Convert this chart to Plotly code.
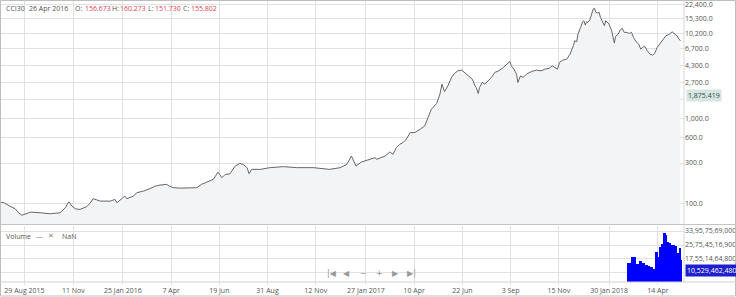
import numpy as np
import pandas as pd
import plotly.graph_objects as go

# ---------------- data ----------------
price_dates = [
    "2015-07-24", "2015-07-29", "2015-08-07", "2015-08-15", "2015-08-20", "2015-08-25",
    "2015-09-02", "2015-09-07", "2015-09-22", "2015-10-07", "2015-10-22", "2015-10-30",
    "2015-11-04", "2015-11-09", "2015-11-14", "2015-11-21", "2015-12-01", "2015-12-06",
    "2015-12-11", "2015-12-22", "2016-01-06", "2016-01-13", "2016-01-16", "2016-01-23",
    "2016-01-28", "2016-01-31", "2016-02-10", "2016-02-15", "2016-02-25", "2016-03-06",
    "2016-03-14", "2016-03-21", "2016-03-31", "2016-04-05", "2016-04-10", "2016-04-21",
    "2016-05-06", "2016-05-16", "2016-05-23", "2016-05-31", "2016-06-10", "2016-06-17",
    "2016-06-23", "2016-06-28", "2016-07-05", "2016-07-13", "2016-07-20", "2016-07-25",
    "2016-07-31", "2016-08-03", "2016-08-07", "2016-08-20", "2016-09-04", "2016-09-24",
    "2016-10-14", "2016-11-08", "2016-12-03", "2016-12-19", "2016-12-29", "2017-01-05",
    "2017-01-12", "2017-01-20", "2017-02-02", "2017-02-10", "2017-02-12", "2017-02-25",
    "2017-03-04", "2017-03-09", "2017-03-14", "2017-03-19", "2017-03-24", "2017-03-29",
    "2017-04-04", "2017-04-11", "2017-04-19", "2017-04-26", "2017-05-01", "2017-05-06",
    "2017-05-14", "2017-05-19", "2017-05-22", "2017-05-26", "2017-05-31", "2017-06-06",
    "2017-06-10", "2017-06-15", "2017-06-21", "2017-06-25", "2017-06-28", "2017-07-03",
    "2017-07-07", "2017-07-11", "2017-07-13", "2017-07-16", "2017-07-18", "2017-07-22",
    "2017-07-26", "2017-07-31", "2017-08-05", "2017-08-10", "2017-08-16", "2017-08-23",
    "2017-08-28", "2017-09-02", "2017-09-04", "2017-09-08", "2017-09-12", "2017-09-14",
    "2017-09-18", "2017-09-22", "2017-09-27", "2017-10-05", "2017-10-12", "2017-10-19",
    "2017-10-25", "2017-11-01", "2017-11-05", "2017-11-09", "2017-11-13", "2017-11-16",
    "2017-11-21", "2017-11-27", "2017-12-02", "2017-12-07", "2017-12-09", "2017-12-12",
    "2017-12-14", "2017-12-18", "2017-12-21", "2017-12-23", "2017-12-25", "2017-12-27",
    "2017-12-29", "2018-01-01", "2018-01-03", "2018-01-06", "2018-01-08", "2018-01-10",
    "2018-01-13", "2018-01-15", "2018-01-17", "2018-01-20", "2018-01-23", "2018-01-25",
    "2018-01-28", "2018-01-30", "2018-02-03", "2018-02-05", "2018-02-07", "2018-02-09",
    "2018-02-13", "2018-02-16", "2018-02-19", "2018-02-22", "2018-02-25", "2018-03-02",
    "2018-03-05", "2018-03-08", "2018-03-12", "2018-03-16", "2018-03-19", "2018-03-22",
    "2018-03-25", "2018-03-29", "2018-04-02", "2018-04-06", "2018-04-09", "2018-04-13",
    "2018-04-17", "2018-04-22", "2018-04-26", "2018-04-29", "2018-05-03", "2018-05-06",
    "2018-05-09", "2018-05-13", "2018-05-16", "2018-05-18",
]
price_values = [
    102.8, 101.9, 92.9, 86.5, 77.6, 72.7,
    76.1, 78.9, 77.6, 75.5, 77.6, 88.9,
    104.7, 92.9, 86.5, 84.9, 91.4, 100.0,
    113.7, 106.5, 106.5, 111.5, 101.9, 113.7,
    122.0, 113.7, 122.0, 133.9, 139.8, 149.3,
    160.2, 164.7, 167.9, 160.2, 153.4, 151.7,
    153.4, 153.4, 167.9, 178.7, 192.3, 234.6,
    201.4, 220.4, 223.4, 276.3, 297.4, 289.4,
    264.6, 224.6, 252.6, 252.6, 264.6, 271.9,
    264.6, 264.6, 252.6, 264.6, 289.4, 362.8,
    276.3, 308.2, 331.6, 347.4, 331.6, 362.8,
    404.6, 380.2, 456.2, 499.0, 522.7, 571.9,
    686.5, 686.5, 751.1, 821.9, 1033, 1295,
    1513, 1950, 2560, 2098, 2444, 3124,
    3426, 3679, 3750, 3522, 3362, 3124,
    2934, 2444, 2340, 1987, 2340, 2681,
    2560, 2801, 3073, 3522, 3679, 4035,
    4332, 4753, 4216, 3853, 3362, 2681,
    3210, 3073, 3362, 3620, 3750, 3679,
    3853, 3960, 4216, 4035, 3853, 4625,
    4925, 5060, 5798, 7270, 8332, 8108,
    10000, 12000, 13980, 14370, 12780, 13980,
    13750, 14760, 16470, 19760, 20140, 18060,
    17720, 18060, 15760, 13750, 12540, 14370,
    13750, 13130, 10940, 9548, 7827, 9393,
    10000, 11240, 11680, 10470, 10470, 10190,
    10470, 9141, 8108, 7617, 6645, 6960,
    7152, 6345, 5798, 5642, 5910, 6960,
    7617, 8727, 9548, 9731, 10270, 10650,
    10000, 9548, 8727, 8332,
]

volume_start = "2018-02-28"   # volume bars, one every 2 days
volume_values = [
    15.6e9, 15.6e9, 15.6e9, 18.9e9, 19.3e9, 19.3e9, 14.0e9, 15.0e9, 15.0e9, 16.4e9,
    16.4e9, 15.4e9, 15.4e9, 14.4e9, 14.4e9, 14.0e9, 14.0e9, 13.0e9, 13.0e9, 12.1e9,
    12.1e9, 21.9e9, 21.9e9, 18.9e9, 24.8e9, 24.8e9, 26.8e9, 33.3e9, 33.3e9, 31.7e9,
    27.8e9, 27.2e9, 27.2e9, 25.8e9, 25.8e9, 25.8e9, 25.2e9, 21.3e9, 21.3e9, 24.5e9,
    17.4e9,
]

price_ticks = [100, 300, 600, 1000, 1700, 2700, 4300, 6700, 10200, 15300, 22400]
price_tick_labels = ["100.0", "300.0", "600.0", "1,000.0", "", "2,700.0", "4,300.0",
                     "6,700.0", "10,200.0", "15,300.0", "22,400.0"]
volume_ticks = [9348412700, 17551464800, 25754516900, 33957569000]
volume_tick_labels = ["", "17,55,14,64,800", "25,75,45,16,900", "33,95,75,69,000"]

date_ticks = ["2015-08-29", "2015-11-11", "2016-01-25", "2016-04-07", "2016-06-19",
              "2016-08-31", "2016-11-12", "2017-01-27", "2017-04-10", "2017-06-22",
              "2017-09-03", "2017-11-15", "2018-01-30", "2018-04-14"]
date_tick_labels = ["29 Aug 2015", "11 Nov", "25 Jan 2016", "7 Apr", "19 Jun", "31 Aug",
                    "12 Nov", "27 Jan 2017", "10 Apr", "22 Jun", "3 Sep", "15 Nov",
                    "30 Jan 2018", "14 Apr"]

symbol = "CCI30"
header_date = "26 Apr 2016"
header_ohlc = [("O:", "156.673"), ("H:", "160.273"), ("L:", "151.730"), ("C:", "155.802")]
last_price_marker = 1875.419
last_volume = 10529462480

# ---------------- layout helpers ----------------
W, H = 736, 297
ML, MR, MT, MB = 1, 52, 0, 15
PW, PH = W - ML - MR, H - MT - MB


def px(x):
    return (x - ML) / PW


def py(y):
    return (H - MB - y) / PH


FONT = "Open Sans"
GRID = "#e1e1e1"
TXT = "#555555"

volume_dates = pd.date_range(volume_start, periods=len(volume_values), freq="2D")

fig = go.Figure()
fig.add_trace(go.Scatter(
    x=price_dates, y=price_values, mode="lines",
    line=dict(color="#666666", width=1),
    fill="tozeroy", fillcolor="#f3f4f6",
    xaxis="x", yaxis="y", showlegend=False, hoverinfo="skip",
))
fig.add_trace(go.Bar(
    x=volume_dates, y=volume_values, width=2 * 86400000,
    marker=dict(color="#0000ff", line=dict(width=0)),
    xaxis="x", yaxis="y2", showlegend=False, hoverinfo="skip",
))

main_bottom = py(224.5)
vol_top = py(225.5)

fig.update_layout(
    width=W, height=H, margin=dict(l=ML, r=MR, t=MT, b=MB),
    paper_bgcolor="white", plot_bgcolor="white",
    font=dict(family=FONT, size=7, color=TXT),
    bargap=0, showlegend=False,
    xaxis=dict(
        type="date", anchor="y2", range=["2015-07-24 12:00", "2018-05-23 12:00"],
        tickvals=date_ticks, ticktext=date_tick_labels,
        showgrid=True, gridcolor=GRID, gridwidth=1,
        ticks="outside", ticklen=2, tickcolor=GRID,
        showline=False, zeroline=False, automargin=False,
        tickfont=dict(size=7, color=TXT),
    ),
    yaxis=dict(
        type="log", domain=[main_bottom, 1], anchor="x", side="right",
        range=[np.log10(56.4), np.log10(25250)],
        tickvals=price_ticks, ticktext=price_tick_labels,
        showgrid=True, gridcolor=GRID, zeroline=False, showline=False,
        ticks="", automargin=False, ticklabeloverflow="allow",
        tickfont=dict(size=7, color=TXT),
    ),
    yaxis2=dict(
        domain=[0, vol_top], anchor="x", side="right",
        range=[4.07e9, 37.18e9],
        tickvals=volume_ticks, ticktext=volume_tick_labels,
        showgrid=True, gridcolor=GRID, zeroline=False, showline=False,
        ticks="", automargin=False, ticklabeloverflow="allow",
        tickfont=dict(size=7, color=TXT),
    ),
)

shapes = []
# outer frame
shapes.append(dict(type="rect", xref="paper", yref="paper",
                   x0=px(0.5), x1=px(735.5), y0=py(296), y1=py(0.5),
                   line=dict(color="#bdbdbd", width=1)))
# panel separator
shapes.append(dict(type="line", xref="paper", yref="paper",
                   x0=px(0), x1=px(736), y0=py(224.5), y1=py(224.5),
                   line=dict(color="#c4c4c4", width=1)))
# x-axis baseline
shapes.append(dict(type="line", xref="paper", yref="paper",
                   x0=px(0), x1=px(736), y0=py(282), y1=py(282),
                   line=dict(color="#d0d0d0", width=1)))
# plot / axis separator
shapes.append(dict(type="line", xref="paper", yref="paper",
                   x0=px(684), x1=px(684), y0=py(282), y1=py(0),
                   line=dict(color="#d6d6d6", width=1)))
fig.update_layout(shapes=shapes)

ann = []
# header
ann.append(dict(text=symbol, x=px(4), y=py(9)))
ann.append(dict(text=header_date, x=px(27), y=py(9)))
for (lab, val), xl, xv in zip(header_ohlc, [73, 110, 146, 181], [83, 118, 153, 189]):
    ann.append(dict(text=lab, x=px(xl), y=py(9)))
    ann.append(dict(text=val, x=px(xv), y=py(9), font=dict(color="#e0404c", size=7, family=FONT)))
# volume legend
ann.append(dict(text="Volume", x=px(4), y=py(236)))
ann.append(dict(text="—", x=px(34), y=py(236), font=dict(color="#888", size=7, family=FONT)))
ann.append(dict(text="✕", x=px(46), y=py(236), font=dict(color="#888", size=7, family="DejaVu Sans")))
ann.append(dict(text="NaN", x=px(60), y=py(236)))
# navigation buttons
for sym, xx in zip(["|◀", "◀", "−", "+", "▶", "▶|"], [325, 341, 358, 374, 390, 405]):
    ann.append(dict(text=sym, x=px(xx), y=py(273),
                    font=dict(color="#9a9a9a", size=8, family="DejaVu Sans")))
for a in ann:
    a.setdefault("font", dict(color=TXT, size=7, family=FONT))
    a.update(xref="paper", yref="paper", xanchor="left", yanchor="middle",
             showarrow=False)

# current value markers on the axes
ann.append(dict(text=f"{last_price_marker:,.3f}", xref="paper", yref="y",
                x=px(686), y=np.log10(last_price_marker), xanchor="left", yanchor="middle",
                showarrow=False, bgcolor="#d3e6e1", borderpad=1,
                font=dict(color="#444", size=7, family=FONT)))
ann.append(dict(text=f"{last_volume:,}", xref="paper", yref="y2",
                x=px(685), y=last_volume, xanchor="left", yanchor="middle",
                showarrow=False, bgcolor="#1f1fd0", borderpad=1,
                font=dict(color="white", size=7, family=FONT)))
fig.update_layout(annotations=ann)

fig.write_html("out.html")
